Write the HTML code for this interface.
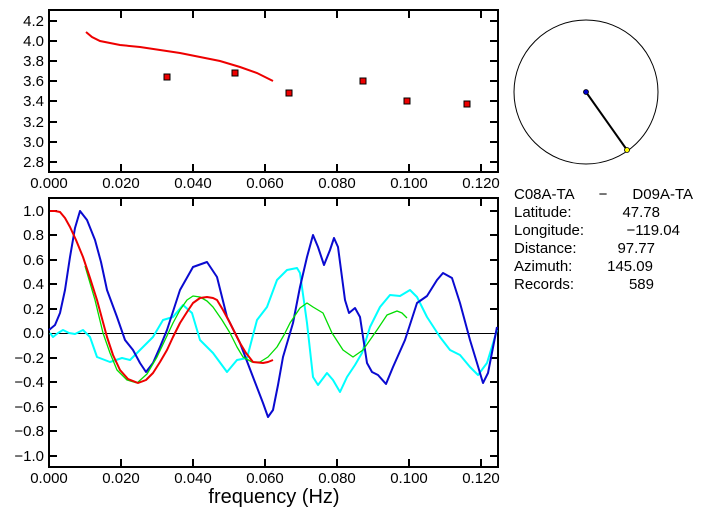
<!DOCTYPE html>
<html><head><style>
body{margin:0;background:#fff;width:703px;height:519px;overflow:hidden}
svg text{font-family:"Liberation Sans",sans-serif}
</style></head><body>
<svg width="703" height="519" viewBox="0 0 703 519" xmlns="http://www.w3.org/2000/svg">
<g stroke="#000" stroke-width="2" fill="none">
<rect x="49" y="10" width="449" height="162"/>
<rect x="49" y="198" width="449" height="269"/>
<path d="M49 21h8M49 41h8M49 61h8M49 81h8M49 101h8M49 122h8M49 142h8M49 162h8
M490 21h8M490 41h8M490 61h8M490 81h8M490 101h8M490 122h8M490 142h8M490 162h8
M121 10v8M193 10v8M265 10v8M337 10v8M409 10v8M481 10v8
M121 172v-8M193 172v-8M265 172v-8M337 172v-8M409 172v-8M481 172v-8"/>
<path d="M49 211h8M49 235h8M49 260h8M49 284h8M49 309h8M49 358h8M49 382h8M49 407h8M49 431h8M49 456h8
M490 211h8M490 235h8M490 260h8M490 284h8M490 309h8M490 358h8M490 382h8M490 407h8M490 431h8M490 456h8
M121 198v8M193 198v8M265 198v8M337 198v8M409 198v8M481 198v8
M121 467v-8M193 467v-8M265 467v-8M337 467v-8M409 467v-8M481 467v-8"/>
</g>
<line x1="49" y1="333.5" x2="498" y2="333.5" stroke="#000" stroke-width="1"/>
<g font-size="15" text-anchor="end" fill="#000">
<text x="44" y="26">4.2</text><text x="44" y="46">4.0</text><text x="44" y="66">3.8</text><text x="44" y="86">3.6</text><text x="44" y="106">3.4</text><text x="44" y="127">3.2</text><text x="44" y="147">3.0</text><text x="44" y="167">2.8</text>
<text x="44" y="216">1.0</text><text x="44" y="240">0.8</text><text x="44" y="265">0.6</text><text x="44" y="289">0.4</text><text x="44" y="314">0.2</text><text x="44" y="338">0.0</text><text x="44" y="363">−0.2</text><text x="44" y="387">−0.4</text><text x="44" y="412">−0.6</text><text x="44" y="436">−0.8</text><text x="44" y="461">−1.0</text>
</g>
<g font-size="15" text-anchor="middle" fill="#000">
<text x="49" y="188">0.000</text><text x="121" y="188">0.020</text><text x="193" y="188">0.040</text><text x="265" y="188">0.060</text><text x="337" y="188">0.080</text><text x="409" y="188">0.100</text><text x="481" y="188">0.120</text>
<text x="49" y="483">0.000</text><text x="121" y="483">0.020</text><text x="193" y="483">0.040</text><text x="265" y="483">0.060</text><text x="337" y="483">0.080</text><text x="409" y="483">0.100</text><text x="481" y="483">0.120</text>
<text x="274" y="503" font-size="20">frequency (Hz)</text>
</g>
<polyline fill="none" stroke="#e00" stroke-width="2" points="86,32 92,37 100,41 110,43 120,45 140,47 160,50 180,53 200,57 220,61 240,67 257,73 273,81"/>
<g fill="#e00" stroke="#000" stroke-width="1">
<rect x="164" y="74" width="6" height="6"/><rect x="232" y="70" width="6" height="6"/><rect x="286" y="90" width="6" height="6"/><rect x="360" y="78" width="6" height="6"/><rect x="404" y="98" width="6" height="6"/><rect x="464" y="101" width="6" height="6"/>
</g>
<g fill="none" stroke-width="2" stroke-linejoin="round">
<polyline stroke="#00ffff" points="50,333 53,337 58,333 63,330 69,333 75,334 83,330 90,337 97,357 110,362 122,358 130,360 140,350 153,337 163,320 173,317 183,305 192,313 200,340 213,353 227,372 237,360 247,358 257,320 267,307 277,280 287,270 297,268 300,273 307,323 313,377 318,385 327,373 333,380 340,392 347,377 355,365 362,353 370,327 380,307 390,295 400,296 410,290 417,297 427,317 440,337 450,350 460,355 470,367 478,375 487,363 497,330"/>
<polyline stroke="#0a0ad0" points="49,330 55,325 60,313 65,290 70,257 75,228 80,211 87,220 95,240 101,262 107,290 117,317 125,340 133,350 140,363 146,372 153,363 160,347 167,330 180,290 193,267 207,262 217,277 227,317 240,343 253,377 263,403 268,417 273,410 278,385 283,357 293,323 300,287 307,257 313,235 318,247 324,265 330,250 334,238 338,247 345,300 349,313 355,308 360,317 367,363 372,372 378,375 386,384 393,367 405,340 417,303 427,296 437,280 443,273 452,278 460,303 470,340 477,363 483,383 488,373 497,327"/>
<polyline stroke="#00dd00" stroke-width="1.3" points="85,266 95,300 103,333 110,353 117,370 127,380 137,383 147,374 157,357 165,340 173,323 180,310 187,300 193,296 200,297 207,301 213,307 222,320 230,333 237,347 243,357 252,362 260,362 268,357 277,347 284,335 290,323 300,308 307,303 313,307 323,313 332,333 343,350 353,357 363,350 370,340 377,330 387,315 397,311 402,313 407,318"/>
<polyline stroke="#e00" points="50,211 55,211 60,212 65,218 70,227 76,240 83,257 90,278 97,300 107,337 113,355 120,370 128,379 138,383 146,380 153,373 160,362 167,350 173,337 180,323 187,312 193,303 200,298 207,297 213,298 217,300 223,310 230,323 235,333 240,343 246,353 253,362 263,363 268,362 273,360"/>
</g>
<circle cx="586" cy="92" r="72" fill="none" stroke="#000" stroke-width="1"/>
<line x1="586" y1="92" x2="627" y2="150" stroke="#000" stroke-width="2"/>
<circle cx="586" cy="92" r="2.5" fill="#0000cc" stroke="#000" stroke-width="0.8"/>
<circle cx="627" cy="150" r="2.5" fill="#ffff00" stroke="#000" stroke-width="0.8"/>
<g font-size="15" fill="#000">
<text x="514" y="199">C08A-TA</text><text x="603" y="199" text-anchor="middle">−</text><text x="693" y="199" text-anchor="end">D09A-TA</text>
<text x="514" y="217">Latitude:</text><text x="660" y="217" text-anchor="end">47.78</text>
<text x="514" y="235">Longitude:</text><text x="680" y="235" text-anchor="end">−119.04</text>
<text x="514" y="253">Distance:</text><text x="655" y="253" text-anchor="end">97.77</text>
<text x="514" y="271">Azimuth:</text><text x="653" y="271" text-anchor="end">145.09</text>
<text x="514" y="289">Records:</text><text x="654" y="289" text-anchor="end">589</text>
</g>
</svg>
</body></html>
